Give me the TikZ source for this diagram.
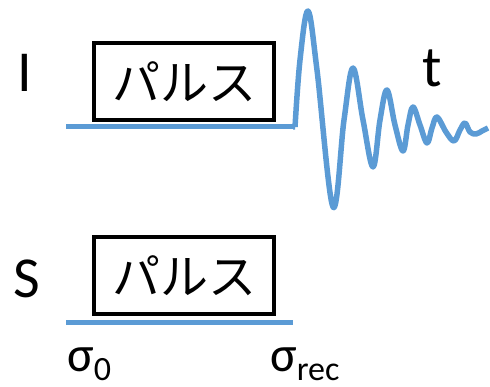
\documentclass[tikz,border=0pt]{standalone}
\usepackage{fontspec}
\setmainfont{Carlito}
\newfontfamily\jpfont{Noto Sans CJK JP}
\definecolor{wave}{RGB}{91,155,213}
\begin{document}
\begin{tikzpicture}[x=1pt,y=-1pt,
  pulsebox/.style={draw=black,line width=3.2pt,minimum width=180pt,minimum height=77pt,inner sep=0pt,font=\jpfont\fontsize{48}{48}\selectfont},
  baseln/.style={draw=wave,line width=5pt},
  lbl/.style={inner sep=0pt,font=\fontsize{58}{58}\selectfont},
  sig/.style={inner sep=0pt,anchor=base west,font=\fontsize{50}{50}\selectfont}]
\useasboundingbox (0,0) rectangle (490,387);
\node[lbl] (I) at (25,73) {I};
\node[pulsebox] (p1) at (184,81.5) {パルス};
\coordinate (a1) at (66,127);
\coordinate (b1) at (293,127);
\draw[baseln] (a1) -- (b1);
\draw[draw=wave,line width=5.5pt,line join=round] (b1) -- (295,127) plot[smooth,tension=0.6] coordinates {(295,127) (300,60) (308,11) (317,70) (333,207) (344,120) (353,68) (363,120) (373,167) (380,120) (387,90) (395,125) (403,151) (408,125) (413,107) (420,125) (427,143) (432,128) (437,117) (446,132) (454,141) (460,130) (465,123) (470,132) (476,134) (482,131) (488,128)};
\node[lbl] (t) at (432,68) {t};
\node[lbl] (S) at (27,279) {S};
\node[pulsebox] (p2) at (184,275.5) {パルス};
\coordinate (a2) at (66,323);
\coordinate (b2) at (293,323);
\draw[baseln] (a2) -- (b2);
\node[sig] (s0) at (67,371) {σ\raisebox{-9pt}{\fontsize{34}{34}\selectfont 0}};
\node[sig] (srec) at (270,371) {σ\raisebox{-9pt}{\fontsize{34}{34}\selectfont rec}};
\end{tikzpicture}
\end{document}
